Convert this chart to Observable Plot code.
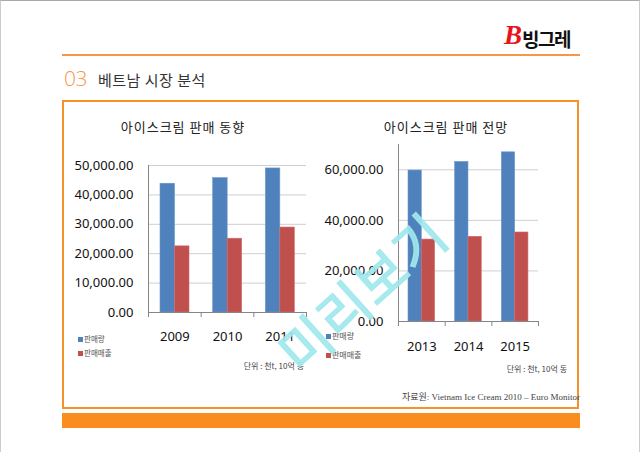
<!DOCTYPE html>
<html><head><meta charset="utf-8">
<script src="https://cdn.jsdelivr.net/npm/d3@7"></script>
<script src="https://cdn.jsdelivr.net/npm/@observablehq/plot@0.6"></script>
<style>
html,body{margin:0;padding:0;background:#fff;}
#page{position:relative;width:640px;height:452px;overflow:hidden;background:#fff;font-family:"Noto Sans","Noto Sans CJK KR",sans-serif;box-sizing:border-box;border-top:1px solid #aaa;border-left:1px solid #ccc;border-right:1px solid #ccc;}
.abs{position:absolute;white-space:nowrap;}
.kr{font-family:"Noto Sans CJK KR","Noto Sans",sans-serif;}
</style></head>
<body><div id="page"></div>
<script>
// ---- data ----
const pageTitleNum = "03";
const pageTitle = "베트남 시장 분석";
const brand = "빙그레";
const series = ["판매량", "판매매출"];
const colors = ["#4F81BD", "#C0504D"];

const title1 = "아이스크림 판매 동향";
const years1 = ["2009", "2010", "2011"];
const volume1 = [43800, 45700, 49000];
const sales1 = [22500, 25100, 28900];
const yTicks1 = [0, 10000, 20000, 30000, 40000, 50000];

const title2 = "아이스크림 판매 전망";
const years2 = ["2013", "2014", "2015"];
const volume2 = [59700, 63100, 66900];
const sales2 = [32400, 33500, 35200];
const yTicks2 = [0, 20000, 40000, 60000];

const unitText = "단위 : 천t, 10억 동";
const sourceText = "자료원: Vietnam Ice Cream 2010 – Euro Monitor";
const watermark = "미리보기";

const page = document.getElementById("page");
function el(html, css, cls = "abs") {
  const d = document.createElement("div");
  d.className = cls;
  d.innerHTML = html;
  Object.assign(d.style, css);
  page.appendChild(d);
  return d;
}

// ---- slide decoration ----
el("", {left: "61px", top: "53px", width: "518px", height: "2px", background: "#F79646"});
el("", {left: "61px", top: "99px", width: "517px", height: "309px", border: "2px solid #F7922A", boxSizing: "border-box"});
el("", {left: "61px", top: "412px", width: "518px", height: "15px", background: "#F98D1F"});
el(pageTitleNum, {left: "63px", top: "63px", fontSize: "21px", color: "#F79646", fontWeight: "300", fontFamily: "'Open Sans',sans-serif", letterSpacing: "-0.5px"});
el(pageTitle, {left: "97px", top: "68px", fontSize: "15px", color: "#333", letterSpacing: "0.5px"}, "abs kr");
el("B", {left: "503px", top: "19px", fontSize: "27px", color: "#E8141B", fontWeight: "bold", fontStyle: "italic", fontFamily: "'Liberation Serif',serif"});
el(brand, {left: "521px", top: "24px", fontSize: "19px", color: "#111", fontWeight: "bold", letterSpacing: "-1.5px"}, "abs kr");

// ---- chart builder ----
function chart(o) {
  const rows = o.years.map((year, i) => ({i, year, v: o.volume[i], s: o.sales[i]}));
  const bw = (o.width - o.mL - o.mR) / o.years.length;
  const ink = "#868686";
  return Plot.plot({
    width: o.width, height: o.height,
    marginLeft: o.mL, marginRight: o.mR, marginTop: o.mT, marginBottom: o.mB,
    style: {fontFamily: "'Noto Sans',sans-serif", fontSize: "13px", color: "#111", background: "transparent", overflow: "visible"},
    x: {type: "linear", domain: [0, o.years.length], label: null},
    y: {domain: [0, o.yMax], label: null},
    marks: [
      Plot.gridY(o.ticks.filter(t => t > 0), {stroke: "#cfcfcf", strokeOpacity: 1}),
      Plot.rectY(rows, {x1: "i", x2: d => d.i + 1, y: "v", fill: colors[0], stroke: "#6b97cc", strokeWidth: 0.6, insetLeft: o.in1[0], insetRight: bw - o.in1[1]}),
      Plot.rectY(rows, {x1: "i", x2: d => d.i + 1, y: "s", fill: colors[1], stroke: "#cf6d6a", strokeWidth: 0.6, insetLeft: o.in2[0], insetRight: bw - o.in2[1]}),
      Plot.ruleX([0], {stroke: ink}),
      Plot.ruleY([0], {stroke: ink}),
      Plot.axisY({ticks: o.ticks, tickFormat: d3.format(",.2f"), tickSize: 0, tickPadding: 15, label: null}),
      Plot.axisX({ticks: d3.range(o.years.length + 1), tickFormat: () => "", tickSize: 5, stroke: ink, label: null}),
      Plot.axisX({ticks: o.years.map((_, i) => i + 0.5), tickFormat: t => o.years[Math.floor(t)], tickSize: 0, tickPadding: o.xPad, label: null})
    ]
  });
}

function place(node, left, top) {
  node.style.position = "absolute";
  node.style.left = left + "px";
  node.style.top = top + "px";
  page.appendChild(node);
}

const c1 = chart({years: years1, volume: volume1, sales: sales1, ticks: yTicks1, yMax: 50000,
  width: 255, height: 200, mL: 87, mR: 10, mT: 14, mB: 39, in1: [12, 26.5], in2: [26.5, 41], xPad: 19});
place(c1, 60, 150);
const c2 = chart({years: years2, volume: volume2, sales: sales2, ticks: yTicks2, yMax: 70000,
  width: 225, height: 235, mL: 77, mR: 8, mT: 13, mB: 45, in1: [10, 23.3], in2: [23.3, 36.6], xPad: 20});
place(c2, 320, 130);

// ---- titles ----
el(title1, {left: "118px", top: "116px", width: "128px", textAlign: "center", fontSize: "13px", color: "#222", letterSpacing: "1px"}, "abs kr");
el(title2, {left: "381px", top: "116px", width: "128px", textAlign: "center", fontSize: "13px", color: "#222", letterSpacing: "1px"}, "abs kr");

// ---- legends ----
function legend(x, ys, fs) {
  series.forEach((s, k) => {
    el("", {left: x + "px", top: (ys[k] - 2.5) + "px", width: "5px", height: "5px", background: colors[k]});
    el(s, {left: (x + 6) + "px", top: (ys[k] - fs * 0.75) + "px", fontSize: fs + "px", color: "#555", lineHeight: "1.5"}, "abs kr");
  });
}
legend(77, [338, 352], 7.5);
legend(325, [335, 354], 8);

// ---- units & source ----
el(unitText, {right: (640 - 305) + "px", top: "359px", fontSize: "8px", color: "#444"}, "abs kr");
el(unitText, {right: (640 - 568) + "px", top: "362px", fontSize: "8px", color: "#444"}, "abs kr");
el(sourceText, {right: (640 - 581) + "px", top: "389px", fontSize: "9px", color: "#444", fontFamily: "'Liberation Serif','Noto Sans CJK KR',serif"});

// ---- watermark ----
el(watermark, {left: "360px", top: "290px", fontSize: "54px", color: "rgba(160,232,236,0.9)", WebkitTextStroke: "1.5px rgba(160,232,236,0.9)", transform: "translate(-50%,-50%) rotate(-42deg)", letterSpacing: "1px", lineHeight: "1"}, "abs kr");
</script>
</body></html>
